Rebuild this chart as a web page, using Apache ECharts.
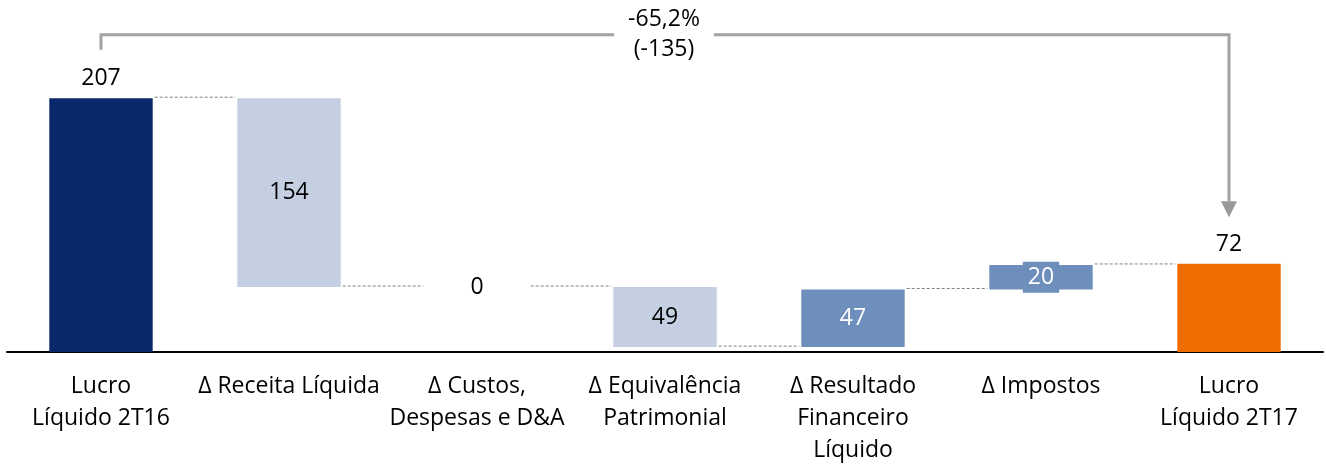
<!DOCTYPE html>
<html>
<head>
<meta charset="utf-8">
<script src="https://cdn.jsdelivr.net/npm/echarts@6/dist/echarts.min.js"></script>
<style>
  html, body { margin: 0; padding: 0; background: #ffffff; }
  #chart { width: 1326px; height: 466px; }
</style>
</head>
<body>
<div id="chart"></div>
<script>
// ---- Data ----
var categories = [
  'Lucro\nLíquido 2T16',
  'Δ Receita Líquida',
  'Δ Custos,\nDespesas e D&A',
  'Δ Equivalência\nPatrimonial',
  'Δ Resultado\nFinanceiro\nLíquido',
  'Δ Impostos',
  'Lucro\nLíquido 2T17'
];
var values = [207, -154, 0, -49, 47, 20, 72];
var kinds = ['total', 'delta', 'delta', 'delta', 'delta', 'delta', 'total'];
var annotationLines = ['-65,2%', '(-135)'];

// ---- Styles ----
var FONT = '"Open Sans", Lato, sans-serif';
var FS = 23;
var C_START = '#0A296A';
var C_END = '#EE6C00';
var C_DOWN = '#C4CFE1';
var C_UP = '#6E8EBB';
var C_GREY = '#A3A3A3';

// ---- Derive waterfall pieces ----
var bases = [], heights = [], ends = [];
var running = 0;
for (var i = 0; i < values.length; i++) {
  var v = values[i];
  if (kinds[i] === 'total') {
    bases.push(0); heights.push(v); running = v;
  } else {
    var next = running + v;
    bases.push(Math.min(running, next));
    heights.push(Math.abs(v));
    running = next;
  }
  ends.push(running);
}
var connectorData = [];
for (var j = 0; j < values.length - 1; j++) connectorData.push([j, ends[j]]);

function barColor(i) {
  if (kinds[i] === 'total') return i === 0 ? C_START : C_END;
  return values[i] < 0 ? C_DOWN : C_UP;
}

var barItems = heights.map(function (h, i) {
  var isTotal = kinds[i] === 'total';
  var up = !isTotal && values[i] > 0;
  var lbl = {
    show: true,
    position: isTotal ? 'top' : 'inside',
    distance: 8,
    fontFamily: FONT,
    fontSize: FS,
    color: up ? '#ffffff' : '#000000',
    formatter: String(Math.abs(values[i]))
  };
  if (up && h < 25) {
    lbl.backgroundColor = C_UP;
    lbl.padding = [5, 5, 3, 5];
  }
  return { value: h, itemStyle: { color: barColor(i) }, label: lbl };
});

var chart = echarts.init(document.getElementById('chart'), null, { renderer: 'canvas' });
var BAR_RATIO = 0.55;

chart.setOption({
  animation: false,
  backgroundColor: '#ffffff',
  grid: { left: 7, right: 3, top: 21, bottom: 111, containLabel: false },
  xAxis: {
    type: 'category',
    data: categories,
    axisLine: { lineStyle: { color: '#000000', width: 2 } },
    axisTick: { show: false },
    axisLabel: {
      interval: 0,
      margin: 18,
      fontFamily: FONT,
      fontSize: FS,
      lineHeight: 32,
      color: '#000000'
    }
  },
  yAxis: {
    type: 'value', min: 0, max: 270,
    show: false, splitLine: { show: false }
  },
  series: [
    {
      type: 'bar', stack: 'wf', barWidth: (BAR_RATIO * 100) + '%',
      itemStyle: { color: 'transparent' },
      emphasis: { disabled: true },
      data: bases, silent: true
    },
    {
      type: 'bar', stack: 'wf', barWidth: (BAR_RATIO * 100) + '%',
      emphasis: { disabled: true },
      data: barItems
    },
    {
      type: 'custom',
      silent: true,
      z: 1,
      data: connectorData,
      renderItem: function (params, api) {
        var idx = api.value(0), lvl = api.value(1);
        var p1 = api.coord([idx, lvl]);
        var p2 = api.coord([idx + 1, lvl]);
        var hw = api.size([1, 0])[0] * BAR_RATIO / 2;
        return {
          type: 'line',
          shape: { x1: p1[0] + hw + 2, y1: p1[1] - 1, x2: p2[0] - hw - 2, y2: p2[1] - 1 },
          style: { stroke: '#7F7F7F', lineWidth: 1, lineDash: [3, 2] }
        };
      }
    },
    {
      type: 'custom',
      silent: true,
      clip: false,
      z: 5,
      data: [[0, values.length - 1]],
      renderItem: function (params, api) {
        var a = api.value(0), b = api.value(1);
        var pStart = api.coord([a, 246.5]);
        var pTop0 = api.coord([a, 258.8]);
        var pTop1 = api.coord([b, 258.8]);
        var pEnd = api.coord([b, 110]);
        var ah = 16, aw = 8;
        var midX = (pTop0[0] + pTop1[0]) / 2;
        return {
          type: 'group',
          children: [
            {
              type: 'polyline',
              shape: { points: [pStart, pTop0, pTop1, [pEnd[0], pEnd[1] - ah]] },
              style: { stroke: C_GREY, lineWidth: 3, fill: null }
            },
            {
              type: 'polygon',
              shape: { points: [[pEnd[0] - aw, pEnd[1] - ah], [pEnd[0] + aw, pEnd[1] - ah], [pEnd[0], pEnd[1]]] },
              style: { fill: '#999999' }
            },
            {
              type: 'text',
              x: midX - 1, y: pTop0[1],
              style: {
                text: annotationLines.join('\n'),
                fontFamily: FONT,
                fontSize: FS,
                lineHeight: 30,
                align: 'center',
                verticalAlign: 'middle',
                fill: '#000000',
                backgroundColor: '#ffffff',
                padding: [0, 14, 0, 14]
              }
            }
          ]
        };
      }
    }
  ]
});
</script>
</body>
</html>
